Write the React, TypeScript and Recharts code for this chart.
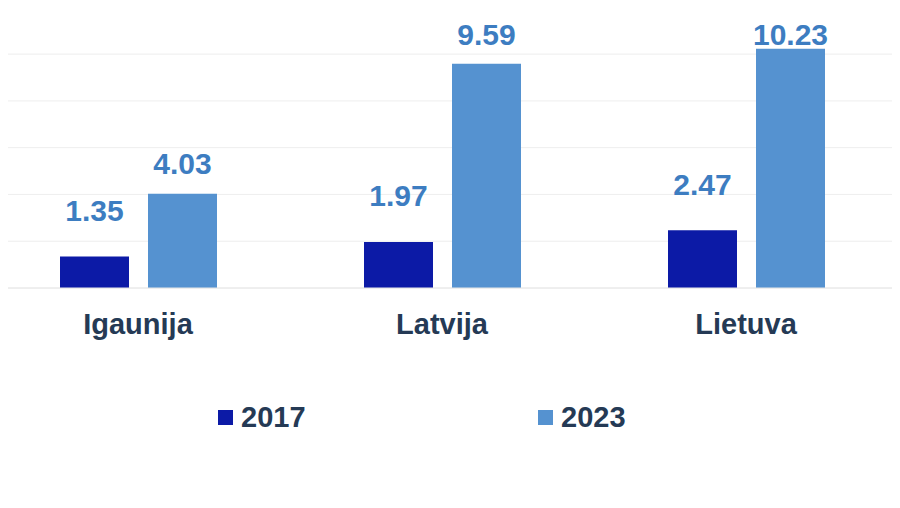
import { BarChart, Bar, XAxis, YAxis, CartesianGrid, LabelList, ReferenceLine } from 'recharts';

const countries = ['Igaunija', 'Latvija', 'Lietuva'];
const values2017 = [1.35, 1.97, 2.47];
const values2023 = [4.03, 9.59, 10.23];
const yTicks = [0, 2, 4, 6, 8, 10, 12];

const data = countries.map((name, i) => ({ name, y2017: values2017[i], y2023: values2023[i] }));

const FONT = '"Liberation Sans", Arial, sans-serif';
const LABEL_COLOR = '#3d7dc1';
const TEXT_DARK = '#253a55';
const GRID = '#eeeeee';

const makeLabel = (gap: number) => (props: any) => {
  const { x, y, width, value } = props;
  const cy = Math.max(34, y - gap);
  return (
    <text
      x={x + width / 2}
      y={cy}
      textAnchor="middle"
      dominantBaseline="central"
      fill={LABEL_COLOR}
      fontFamily={FONT}
      fontWeight="bold"
      fontSize={30}
    >
      {value.toFixed(2)}
    </text>
  );
};

function LegendContent() {
  const items = [
    { label: '2017', color: '#0c1aa6' },
    { label: '2023', color: '#5592d0' },
  ];
  return (
    <div style={{ display: 'flex', paddingLeft: 232, fontFamily: FONT }}>
      {items.map((it) => (
        <div key={it.label} style={{ display: 'flex', alignItems: 'center', width: 320 }}>
          <span style={{ width: 15, height: 15, background: it.color, marginRight: 8 }} />
          <span style={{ fontSize: 29, fontWeight: 'bold', color: TEXT_DARK }}>{it.label}</span>
        </div>
      ))}
    </div>
  );
}

export default function App() {
  return (
    <div style={{ position: 'relative', marginLeft: -22, marginTop: -8, width: 912, height: 508, background: '#fff' }}>
      <BarChart
        width={912}
        height={508}
        data={data}
        margin={{ top: 5, right: 0, bottom: 160, left: 0 }}
        barGap={19}
        barCategoryGap={74}
      >
        <CartesianGrid vertical={false} stroke={GRID} />
        <XAxis
          dataKey="name"
          axisLine={{ stroke: '#e6e6e6' }}
          tickLine={false}
          tickSize={0}
          tickMargin={25}
          height={60}
          tick={{ fill: TEXT_DARK, fontSize: 29, fontWeight: 'bold', fontFamily: FONT }}
        />
        <YAxis hide domain={[0, 12.1]} ticks={yTicks} allowDataOverflow />
        <ReferenceLine y={12} stroke={GRID} ifOverflow="visible" />
        <Bar dataKey="y2017" fill="#0c1aa6" isAnimationActive={false}>
          <LabelList dataKey="y2017" content={makeLabel(46)} />
        </Bar>
        <Bar dataKey="y2023" fill="#5592d0" isAnimationActive={false}>
          <LabelList dataKey="y2023" content={makeLabel(30)} />
        </Bar>
      </BarChart>
      <div style={{ position: 'absolute', left: 0, top: 401, width: 912 }}>
        <LegendContent />
      </div>
    </div>
  );
}
